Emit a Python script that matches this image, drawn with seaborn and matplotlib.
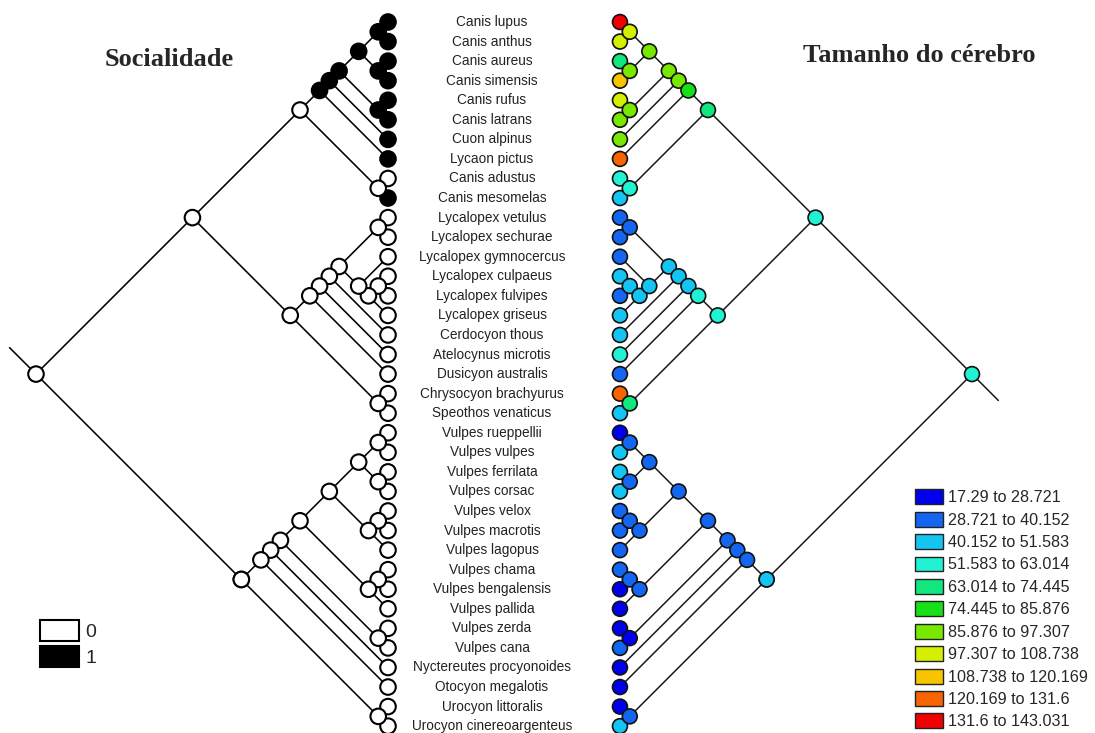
import numpy as np
import pandas as pd
import matplotlib
matplotlib.use("Agg")
import matplotlib.pyplot as plt
import seaborn as sns
from matplotlib.patches import Patch

# ---------------------------------------------------------------- data
TIP_NAMES = [
    "Canis lupus", "Canis anthus", "Canis aureus", "Canis simensis", "Canis rufus",
    "Canis latrans", "Cuon alpinus", "Lycaon pictus", "Canis adustus", "Canis mesomelas",
    "Lycalopex vetulus", "Lycalopex sechurae", "Lycalopex gymnocercus", "Lycalopex culpaeus",
    "Lycalopex fulvipes", "Lycalopex griseus", "Cerdocyon thous", "Atelocynus microtis",
    "Dusicyon australis", "Chrysocyon brachyurus", "Speothos venaticus", "Vulpes rueppellii",
    "Vulpes vulpes", "Vulpes ferrilata", "Vulpes corsac", "Vulpes velox", "Vulpes macrotis",
    "Vulpes lagopus", "Vulpes chama", "Vulpes bengalensis", "Vulpes pallida", "Vulpes zerda",
    "Vulpes cana", "Nyctereutes procyonoides", "Otocyon megalotis", "Urocyon littoralis",
    "Urocyon cinereoargenteus",
]

# cladogram topology, tips referenced by their index in TIP_NAMES
TOPOLOGY = (
    (
        (((((((0, 1), (2, 3)), (4, 5)), 6), 7), (8, 9))),
        (((((((10, 11), (12, ((13, 14), 15))), 16), 17), 18), (19, 20))),
    ),
    (
        ((((((((21, 22), (23, 24)), ((25, 26), 27)), ((28, 29), 30)), (31, 32)), 33), 34), (35, 36)),
    ),
)

# sociality (0 = solitary, 1 = social) at the tips and reconstructed at the nodes
SOCIAL_TIPS = [1, 1, 1, 1, 1, 1, 1, 1, 0, 1] + [0] * 27
SOCIAL_NODES_1 = [(0, 1), (2, 3), (0, 3), (4, 5), (0, 5), (0, 6), (0, 7)]

# brain size class (index into BRAIN_BREAKS intervals)
BRAIN_TIPS = [10, 7, 4, 8, 7, 6, 6, 9, 3, 2,
              1, 1, 1, 2, 1, 2, 2, 3, 1, 9, 2,
              0, 2, 2, 2, 1, 1, 1, 1, 0, 0, 0, 1, 0, 0, 0, 2]
BRAIN_NODES = {
    (0, 1): 7, (2, 3): 6, (0, 3): 6, (4, 5): 6, (0, 5): 6, (0, 6): 6, (0, 7): 5,
    (8, 9): 3, (0, 9): 4, (10, 11): 1, (13, 14): 2, (13, 15): 2, (12, 15): 2,
    (10, 15): 2, (10, 16): 2, (10, 17): 2, (10, 18): 3, (19, 20): 4, (10, 20): 3,
    (0, 20): 3, (21, 22): 1, (23, 24): 1, (21, 24): 1, (25, 26): 1, (25, 27): 1,
    (21, 27): 1, (28, 29): 1, (28, 30): 1, (21, 30): 1, (31, 32): 0, (21, 32): 1,
    (21, 33): 1, (21, 34): 1, (35, 36): 1, (21, 36): 2, (0, 36): 3,
}
BRAIN_BREAKS = ["17.29", "28.721", "40.152", "51.583", "63.014", "74.445", "85.876",
                "97.307", "108.738", "120.169", "131.6", "143.031"]
BRAIN_COLORS = ["#0000EE", "#1466F0", "#14C4F2", "#22F2D4", "#12E67E", "#18E018",
                "#78E800", "#D4F000", "#F8C400", "#F86400", "#F00000"]
SOCIAL_LABELS = ["0", "1"]
SOCIAL_COLORS = ["white", "black"]

TITLE_LEFT = "Socialidade"
TITLE_RIGHT = "Tamanho do cérebro"

# ---------------------------------------------------------------- tree layout
clades, edges = [], []


def walk(node):
    if isinstance(node, int):
        return (node, node)
    kids = [walk(c) for c in node]
    rng = (kids[0][0], kids[-1][1])
    clades.append(rng)
    for k in kids:
        edges.append((rng, k))
    return rng


root = walk(TOPOLOGY)
social_nodes = set(SOCIAL_NODES_1)

L_TIP, R_TIP, LABEL_X = 0.0, 11.86, 5.32

rows = []
for i in range(len(TIP_NAMES)):
    rows.append(dict(first=i, last=i, social=SOCIAL_TIPS[i], brain=BRAIN_TIPS[i]))
for c in clades:
    rows.append(dict(first=c[0], last=c[1], social=int(c in social_nodes),
                     brain=BRAIN_NODES[c]))
nodes = pd.DataFrame(rows)
nodes["y"] = (nodes["first"] + nodes["last"]) / 2
nodes["depth"] = (nodes["last"] - nodes["first"]) / 2
nodes["x_left"] = L_TIP - nodes["depth"]
nodes["x_right"] = R_TIP + nodes["depth"]
nodes["social_lab"] = nodes["social"].map(lambda v: SOCIAL_LABELS[v])
nodes["brain_lab"] = nodes["brain"].map(lambda b: f"{BRAIN_BREAKS[b]} to {BRAIN_BREAKS[b + 1]}")
nodes = nodes.sort_values("depth", kind="stable").reset_index(drop=True)

erows = []
for k, (p, c) in enumerate(edges):
    for r in (p, c):
        y = (r[0] + r[1]) / 2
        d = (r[1] - r[0]) / 2
        erows.append(dict(edge=k, y=y, x_left=L_TIP - d, x_right=R_TIP + d))
# short stems below each root
rd = (root[1] - root[0]) / 2
ry = (root[0] + root[1]) / 2
stem = 1.35
erows += [dict(edge=-1, y=ry, x_left=L_TIP - rd, x_right=np.nan),
          dict(edge=-1, y=ry - stem, x_left=L_TIP - rd - stem, x_right=np.nan),
          dict(edge=-2, y=ry, x_left=np.nan, x_right=R_TIP + rd),
          dict(edge=-2, y=ry + stem, x_left=np.nan, x_right=R_TIP + rd + stem)]
edf = pd.DataFrame(erows)

# ---------------------------------------------------------------- drawing
sns.set_theme(style="white")
plt.rcParams["font.family"] = ["Liberation Sans", "DejaVu Sans"]

fig = plt.figure(figsize=(10.95, 7.33), dpi=100)
ax = fig.add_axes([0, 0, 1, 1])
ax.set_xlim(-19.84, 36.15)
ax.set_ylim(36.35, -1.125)
ax.axis("off")

sns.lineplot(data=edf.dropna(subset=["x_left"]), x="x_left", y="y", units="edge",
             estimator=None, sort=False, color="black", lw=1.15, ax=ax, legend=False)
sns.lineplot(data=edf.dropna(subset=["x_right"]), x="x_right", y="y", units="edge",
             estimator=None, sort=False, color="#1a1a1a", lw=1.1, ax=ax, legend=False)

sns.scatterplot(data=nodes, x="x_left", y="y", hue="social_lab",
                palette=dict(zip(SOCIAL_LABELS, SOCIAL_COLORS)), s=125,
                edgecolor="black", linewidth=1.5, ax=ax, legend=False, zorder=3)
brain_labels = [f"{BRAIN_BREAKS[b]} to {BRAIN_BREAKS[b + 1]}" for b in range(len(BRAIN_COLORS))]
sns.scatterplot(data=nodes, x="x_right", y="y", hue="brain_lab",
                palette=dict(zip(brain_labels, BRAIN_COLORS)), s=115,
                edgecolor="#111111", linewidth=1.2, ax=ax, legend=False, zorder=3)

for i, name in enumerate(TIP_NAMES):
    ax.text(LABEL_X, i, name, ha="center", va="center", fontsize=9.8, color="#222222")

fig.text(169 / 1095, 1 - 60 / 733, TITLE_LEFT, ha="center", va="center",
         fontsize=19, fontweight="bold", family="Liberation Serif")
fig.text(919 / 1095, 1 - 55 / 733, TITLE_RIGHT, ha="center", va="center",
         fontsize=19, fontweight="bold", family="Liberation Serif")

soc_handles = [Patch(facecolor=c, edgecolor="black", linewidth=1.5, label=l)
               for l, c in zip(SOCIAL_LABELS, SOCIAL_COLORS)]
leg1 = ax.legend(handles=soc_handles, loc="upper left", bbox_to_anchor=(26 / 1095, 1 - 606 / 733),
                 frameon=False, fontsize=14, handlelength=2.05, handleheight=1.3,
                 labelspacing=0.25, handletextpad=0.3, borderpad=0.2)
ax.add_artist(leg1)

brain_handles = [Patch(facecolor=c, edgecolor="#222222", linewidth=1.0, label=l)
                 for l, c in zip(brain_labels, BRAIN_COLORS)]
ax.legend(handles=brain_handles, loc="upper left", bbox_to_anchor=(904 / 1095, 1 - 478 / 733),
          frameon=False, fontsize=11.6, handlelength=1.75, handleheight=1.05,
          labelspacing=0.4, handletextpad=0.3, borderpad=0.2)

fig.savefig("out.png", dpi=100, facecolor="white")
